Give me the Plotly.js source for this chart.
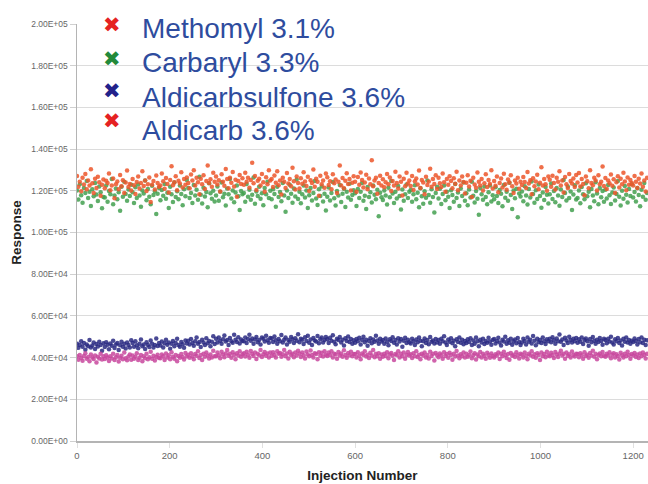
<!DOCTYPE html>
<html>
<head>
<meta charset="utf-8">
<script src="https://cdn.plot.ly/plotly-3.0.1.min.js"></script>
<style>html,body{margin:0;padding:0;background:#fff;}#chart{width:648px;height:484px;}</style>
</head>
<body>
<div id="chart"></div>
<script>
// Response values in hundreds, one value per 3rd injection (0, 3, 6, ...)
const injectionStart = 0;
const injectionStep = 3;
const unit = 100;

const methomyl = [
1271,1219,1244,1198,1262,1230,1281,1207,1249,1225,1303,1236,1190,1258,1214,1267,1241,1176,1229,1254,
1212,1248,1237,1283,1203,1226,1259,1164,1231,1245,1208,1276,1222,1251,1189,1240,1297,1218,1233,1201,
1256,1227,1185,1242,1269,1211,1238,1294,1223,1250,1199,1232,1264,1146,1229,1247,1206,1273,1237,1219,
1225,1283,1246,1210,1261,1233,1192,1252,1318,1227,1241,1270,1203,1248,1235,1289,1216,1257,1229,1264,
1237,1212,1278,1250,1299,1226,1263,1241,1184,1258,1232,1274,1209,1247,1321,1238,1255,1219,1286,1244,
1268,1230,1251,1197,1279,1243,1224,1305,1256,1212,1262,1239,1290,1221,1253,1172,1247,1276,1233,1260,
1229,1287,1244,1263,1215,1252,1334,1236,1271,1204,1248,1258,1226,1281,1241,1195,1265,1231,1298,1249,
1256,1218,1273,1239,1294,1227,1250,1182,1262,1244,1213,1285,1235,1257,1222,1310,1246,1206,1268,1237,
1211,1260,1234,1289,1245,1223,1267,1199,1251,1238,1302,1220,1258,1243,1176,1272,1231,1249,1215,1283,
1265,1228,1246,1207,1279,1236,1254,1190,1243,1321,1225,1261,1212,1248,1284,1233,1257,1201,1239,1270,
1244,1195,1266,1229,1288,1252,1216,1240,1277,1208,1259,1232,1346,1222,1249,1263,1186,1237,1272,1226,
1255,1217,1241,1280,1231,1264,1199,1247,1226,1291,1238,1211,1269,1243,1178,1258,1222,1286,1235,1250,
1223,1271,1204,1246,1259,1230,1297,1214,1252,1240,1183,1267,1228,1245,1306,1219,1256,1233,1274,1209,
1262,1236,1218,1283,1241,1196,1257,1229,1270,1247,1212,1260,1234,1291,1203,1250,1226,1268,1242,1187,
1239,1275,1221,1248,1170,1263,1230,1215,1288,1244,1226,1257,1201,1236,1279,1218,1252,1233,1299,1211,
1247,1224,1268,1193,1238,1259,1216,1282,1231,1205,1254,1240,1274,1222,1189,1249,1235,1263,1210,1244,
1228,1266,1242,1213,1290,1235,1251,1184,1260,1222,1245,1277,1208,1239,1313,1226,1256,1231,1200,1268,
1253,1219,1272,1237,1206,1262,1243,1294,1225,1250,1192,1266,1231,1214,1281,1247,1235,1259,1218,1276,
1240,1285,1221,1256,1233,1179,1269,1246,1212,1298,1238,1227,1263,1250,1201,1274,1232,1244,1317,1223,
1261,1209,1249,1236,1278,1224,1255,1190,1241,1270,1216,1258,1232,1287,1245,1203,1264,1229,1252,1238,
1226,1271,1244,1213,1258,1235,1283,1219,1249,1197,1262];

const carbaryl = [
1202,1158,1231,1179,1143,1214,1190,1247,1165,1196,1127,1208,1174,1238,1182,1151,1221,1193,1116,1170,
1168,1225,1147,1199,1184,1256,1136,1177,1211,1160,1193,1104,1219,1172,1243,1185,1152,1206,1175,1229,
1193,1141,1217,1166,1230,1178,1124,1201,1187,1249,1155,1209,1171,1136,1224,1180,1197,1089,1186,1213,
1155,1204,1176,1233,1162,1191,1118,1219,1183,1146,1240,1170,1198,1159,1226,1185,1131,1207,1174,1252,
1213,1166,1190,1142,1228,1178,1205,1157,1267,1181,1139,1215,1173,1194,1121,1236,1188,1162,1200,1149,
1177,1221,1152,1196,1240,1169,1186,1129,1211,1183,1257,1163,1202,1145,1192,1226,1174,1108,1199,1184,
1190,1148,1233,1172,1205,1157,1181,1264,1138,1197,1175,1220,1162,1188,1131,1214,1183,1244,1166,1200,
1159,1207,1185,1124,1219,1170,1194,1150,1238,1177,1099,1201,1165,1229,1186,1143,1211,1173,1254,1161,
1196,1140,1183,1225,1168,1201,1118,1179,1213,1154,1190,1247,1163,1132,1208,1175,1221,1149,1186,1105,
1171,1216,1153,1189,1242,1164,1130,1199,1177,1228,1146,1186,1210,1122,1195,1168,1234,1157,1180,1203,
1188,1127,1209,1165,1196,1237,1152,1176,1113,1218,1170,1193,1144,1226,1181,1160,1205,1078,1191,1169,
1156,1201,1178,1134,1215,1169,1247,1187,1141,1196,1163,1223,1175,1110,1206,1152,1184,1230,1166,1195,
1204,1148,1183,1227,1160,1191,1121,1212,1174,1138,1198,1167,1250,1180,1143,1208,1170,1096,1189,1219,
1163,1210,1137,1185,1226,1155,1196,1171,1117,1203,1180,1148,1233,1166,1192,1127,1211,1175,1240,1152,
1188,1131,1206,1168,1244,1176,1144,1199,1162,1085,1214,1183,1157,1221,1170,1135,1193,1225,1149,1179,
1159,1217,1175,1141,1204,1186,1126,1228,1167,1195,1152,1239,1180,1113,1201,1164,1210,1073,1187,1173,
1197,1150,1222,1178,1134,1209,1168,1245,1185,1143,1203,1161,1230,1175,1119,1192,1156,1218,1181,1139,
1184,1235,1161,1199,1145,1213,1177,1128,1206,1170,1252,1190,1153,1221,1166,1197,1108,1182,1227,1158,
1166,1201,1140,1218,1183,1159,1236,1174,1195,1121,1209,1178,1150,1241,1187,1135,1214,1169,1199,1147,
1205,1163,1228,1179,1137,1192,1216,1154,1185,1247,1171,1130,1200,1162,1223,1181,1144,1209,1175,1232,
1168,1194,1149,1213,1180,1126,1205,1172,1238,1157,1190];

const aldicarbsulfone = [
466,447,461,479,452,470,438,463,455,484,449,458,472,441,465,453,476,460,433,469,
451,474,462,440,468,457,481,446,463,470,437,459,476,452,466,444,472,461,449,483,
470,452,478,459,445,466,487,455,463,441,474,460,451,482,467,448,461,492,456,470,
458,477,449,469,486,462,472,443,466,480,455,470,491,460,452,475,464,447,482,468,
481,463,489,470,457,478,497,466,475,451,486,472,460,493,469,480,455,476,502,465,
490,473,497,481,466,488,506,477,485,461,494,479,471,509,486,475,498,468,487,480,
478,496,470,489,510,481,492,466,487,499,474,485,463,497,490,477,505,483,471,494,
492,475,501,483,466,489,479,508,472,486,497,463,484,476,499,488,470,493,481,512,
474,491,486,465,498,480,505,471,487,460,494,482,477,503,469,488,496,473,485,499,
488,470,495,481,507,476,464,490,484,499,472,486,458,493,480,501,475,489,467,483,
471,489,478,495,463,484,500,474,486,457,480,493,469,487,476,505,482,466,491,477,
485,467,492,476,459,488,480,498,471,484,463,493,477,489,452,481,495,470,486,474,
468,490,479,461,487,474,496,481,455,478,492,470,484,464,499,476,482,468,489,473,
484,466,491,478,502,472,460,487,476,493,469,481,455,488,475,497,471,486,464,480,
470,488,475,493,461,482,467,497,479,454,486,473,490,465,480,471,495,477,462,484,
489,468,480,495,473,458,486,477,500,466,483,471,491,462,478,487,469,494,475,460,
472,491,480,463,497,476,486,468,503,481,459,490,474,485,470,496,478,465,488,479,
490,474,498,483,466,492,479,511,476,487,461,495,482,470,500,485,473,491,478,494,
471,488,476,497,465,484,492,478,457,489,474,499,481,467,486,475,494,480,462,490,
484,469,491,477,500,473,463,488,479,494,470,482,458,490,476,497,472,485,466,481,
475,492,480,463,489,474,496,470,486,461,483];

const aldicarb = [
406,390,412,398,385,408,421,395,403,382,415,400,393,410,377,404,396,418,391,407,
393,411,401,384,407,396,419,388,402,413,381,399,409,392,424,397,387,405,415,390,
410,394,404,421,389,399,412,383,406,397,418,392,402,428,395,409,386,403,414,398,
397,415,406,389,420,401,411,392,426,404,394,413,382,408,399,417,403,391,422,405,
414,399,421,405,392,417,409,430,398,412,388,419,404,425,410,396,415,401,433,407,
406,424,411,397,428,415,402,420,437,409,418,399,426,413,392,421,410,431,404,416,
421,405,428,414,399,432,417,408,424,393,419,411,436,403,416,427,409,420,401,425,
409,426,413,400,431,418,422,404,416,437,407,420,396,428,412,419,402,424,410,433,
420,403,425,411,396,429,415,407,434,412,400,421,417,392,426,409,423,405,431,414,
408,424,412,430,401,418,415,395,427,410,420,404,435,413,399,422,411,428,406,417,
417,401,426,409,392,420,413,430,405,414,398,423,410,436,402,418,407,421,395,415,
404,419,408,426,397,415,422,409,389,417,412,430,400,418,406,424,394,413,427,410,
416,398,421,407,431,403,414,392,419,410,425,401,413,396,428,408,418,386,422,411,
402,420,411,394,426,408,417,399,423,413,390,419,405,432,410,397,416,407,425,400,
418,404,413,429,397,411,421,391,415,406,427,401,418,409,394,423,412,399,420,408,
400,416,410,424,393,419,406,428,412,398,417,390,422,409,414,403,426,411,396,418,
414,401,425,409,392,418,411,430,404,416,399,421,413,388,424,407,417,402,428,411,
406,423,412,398,427,415,403,420,433,410,418,395,424,409,416,401,429,413,405,419,
417,402,421,411,395,426,408,414,399,422,410,433,404,418,392,413,420,406,427,409,
404,419,410,426,397,414,421,401,416,408,391,423,411,400,418,406,428,412,395,417,
410,422,403,415,398,420,407,425,412,396,418];

const seriesNames = ["Methomyl 3.1%", "Carbaryl 3.3%", "Aldicarbsulfone 3.6%", "Aldicarb 3.6%"];
const pointColors = ["#ec562a", "#43a050", "#2a2a82", "#c8489e"];
const legendColors = ["#e52222", "#238a3a", "#22228a", "#e52222"];

const yTickVals = [0, 20000, 40000, 60000, 80000, 100000, 120000, 140000, 160000, 180000, 200000];
const yTickText = ["0.00E+00","2.00E+04","4.00E+04","6.00E+04","8.00E+04","1.00E+05","1.20E+05","1.40E+05","1.60E+05","1.80E+05","2.00E+05"];
const xTickVals = [0, 200, 400, 600, 800, 1000, 1200];

const seriesValues = [methomyl, carbaryl, aldicarbsulfone, aldicarb];
const drawOrder = [1, 0, 2, 3];

const traces = [];
drawOrder.forEach(function (k) {
  const vals = seriesValues[k];
  traces.push({
    type: "scatter", mode: "markers",
    x: vals.map(function (_, i) { return injectionStart + i * injectionStep; }),
    y: vals.map(function (v) { return v * unit; }),
    marker: { size: 4.5, color: pointColors[k], opacity: 0.85 },
    showlegend: false, hoverinfo: "skip", name: seriesNames[k]
  });
});

// Legend drawn as text (the source legend is larger than the plot's own legend allows)
const legendTextPx = [28, 63, 97, 130];
const legendMarkPx = [25, 59, 91, 121];
const plotTopPx = 24, plotHeightPx = 417, plotWidthPx = 571;
function paperY(px) { return 1 - (px - plotTopPx) / plotHeightPx; }
const annotations = [];
seriesNames.forEach(function (name, k) {
  annotations.push({
    xref: "paper", yref: "paper", x: 35 / plotWidthPx, y: paperY(legendMarkPx[k]),
    xanchor: "center", yanchor: "middle", showarrow: false,
    text: "\u2716", font: { size: 21, color: legendColors[k], family: "DejaVu Sans" }
  });
  annotations.push({
    xref: "paper", yref: "paper", x: 63 / plotWidthPx, y: paperY(legendTextPx[k]),
    xanchor: "left", yanchor: "middle", showarrow: false,
    text: name, font: { size: 28, color: "#2e4c9e", family: "Liberation Sans, Arial, sans-serif" }
  });
});

const layout = {
  width: 648, height: 484,
  margin: { l: 77, r: 0, t: 24, b: 43 },
  paper_bgcolor: "#ffffff", plot_bgcolor: "#ffffff",
  font: { family: "Liberation Sans, Arial, sans-serif", color: "#666" },
  showlegend: false,
  annotations: annotations,
  xaxis: {
    range: [0, 1232], tickvals: xTickVals,
    showgrid: false, zeroline: false, showline: true, linecolor: "#b4b4b4", linewidth: 2,
    ticks: "outside", ticklen: 5, tickcolor: "#e0e0e0",
    tickfont: { size: 9.5, color: "#666" },
    title: { text: "Injection Number", font: { size: 13.5, color: "#222", family: "Liberation Sans, Arial, sans-serif", weight: "bold" }, standoff: 10 }
  },
  yaxis: {
    range: [0, 200000], tickvals: yTickVals, ticktext: yTickText,
    showgrid: true, gridcolor: "#dcdcdc", gridwidth: 1, zeroline: false,
    showline: true, linecolor: "#b4b4b4", linewidth: 1.5,
    ticks: "outside", ticklen: 6, tickcolor: "#d0d0d0",
    tickfont: { size: 8.5, color: "#666" },
    title: { text: "Response", font: { size: 13.5, color: "#222", family: "Liberation Sans, Arial, sans-serif", weight: "bold" }, standoff: 6 }
  }
};

Plotly.newPlot("chart", traces, layout, { staticPlot: true, displayModeBar: false });
</script>
</body>
</html>
